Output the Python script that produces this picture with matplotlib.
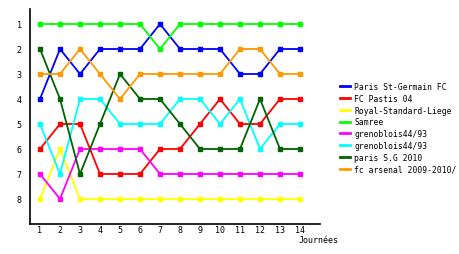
import matplotlib
matplotlib.use("Agg")
import matplotlib.pyplot as plt

journees = list(range(1, 15))
teams = ["Paris St-Germain FC", "FC Pastis 04", "Royal-Standard-Liege", "Samree",
         "grenoblois44/93", "grenoblois44/93", "paris S.G 2010", "fc arsenal 2009-2010/"]
psg = [4, 2, 3, 2, 2, 2, 1, 2, 2, 2, 3, 3, 2, 2]
pastis = [6, 5, 5, 7, 7, 7, 6, 6, 5, 4, 5, 5, 4, 4]
liege = [8, 6, 8, 8, 8, 8, 8, 8, 8, 8, 8, 8, 8, 8]
samree = [1, 1, 1, 1, 1, 1, 2, 1, 1, 1, 1, 1, 1, 1]
greno_a = [7, 8, 6, 6, 6, 6, 7, 7, 7, 7, 7, 7, 7, 7]
greno_b = [5, 7, 4, 4, 5, 5, 5, 4, 4, 5, 4, 6, 5, 5]
psg2010 = [2, 4, 7, 5, 3, 4, 4, 5, 6, 6, 6, 4, 6, 6]
arsenal = [3, 3, 2, 3, 4, 3, 3, 3, 3, 3, 2, 2, 3, 3]
series = [psg, pastis, liege, samree, greno_a, greno_b, psg2010, arsenal]
colors = ["#0000ff", "#ff0000", "#ffff00", "#00ff00", "#ff00ff", "#00ffff", "#006400", "#ff9900"]

font = "DejaVu Sans Mono"
fig = plt.figure(figsize=(4.6, 2.55), dpi=100)
ax = fig.add_axes([30 / 460, 1 - 225 / 255, 290 / 460, 215 / 255])

lines = []
for name, vals, c in zip(teams, series, colors):
    ln, = ax.plot(journees, vals, color=c, lw=1.3, marker="s", ms=2.2, mec=c, label=name)
    lines.append(ln)

ax.set_xlim(0.5, 15)
ax.set_ylim(9, 0.4)
ax.set_xticks(journees)
ax.set_yticks(range(1, 9))
ax.tick_params(axis="x", length=0, labelsize=6, pad=1)
ax.tick_params(axis="y", length=0, labelsize=6, pad=6)
for lab in ax.get_xticklabels() + ax.get_yticklabels():
    lab.set_family(font)
ax.spines["top"].set_visible(False)
ax.spines["right"].set_visible(False)
ax.spines["left"].set_linewidth(1.2)
ax.spines["bottom"].set_linewidth(1.2)
fig.text(299 / 460, 1 - 241 / 255, "Journées", fontsize=6, family=font, va="center")

fig.legend(handles=lines, loc="upper left", bbox_to_anchor=(340 / 460, 1 - 83 / 255),
           frameon=False, prop={"family": font, "size": 5.8}, handlelength=1.2,
           handletextpad=0.6, labelspacing=0.35, borderaxespad=0, borderpad=0)
for h in fig.legends[0].legend_handles:
    h.set_marker("")
    h.set_linewidth(2)

fig.savefig("out.png", dpi=100)
